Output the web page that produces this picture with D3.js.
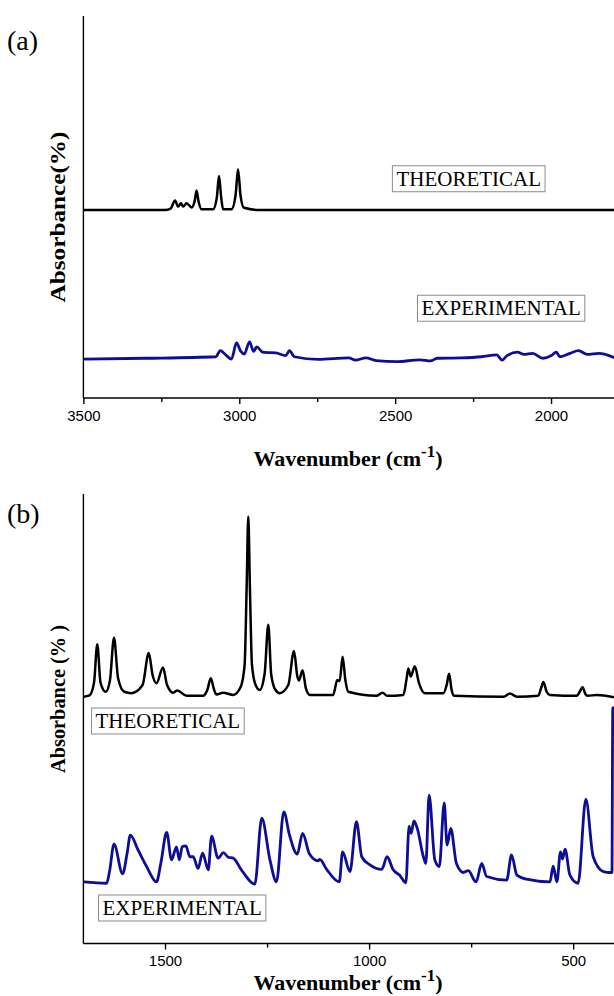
<!DOCTYPE html>
<html>
<head>
<meta charset="utf-8">
<script src="https://cdn.jsdelivr.net/npm/d3@7"></script>
<style>
body { margin: 0; background: #fff; }
svg { display: block; }
.axis path, .axis line { stroke: #000; stroke-width: 1.4; }
.axis text { font-family: "Liberation Sans", Arial, sans-serif; font-size: 15px; fill: #000; }
.panelTag { font-family: "Liberation Serif", "Times New Roman", serif; font-size: 28px; }
.axisTitle { font-family: "Liberation Serif", "Times New Roman", serif; font-weight: bold; font-size: 22px; }
.boxLabel text { font-family: "Liberation Serif", "Times New Roman", serif; font-size: 21px; }
.boxLabel rect { fill: #fff; stroke: #8c8c8c; stroke-width: 1; }
</style>
</head>
<body>
<script>
// values: [wavenumber, absorbance (arbitrary, 0-100)]
var aTheoretical = [[3500,49.2],[3239,49.2],[3220,49.6],[3206,51.7],[3196,50.1],[3187,51.0],[3180,50.1],[3169,51.0],[3153,49.9],[3143,51.6],[3137,54.3],[3131,51.6],[3121,49.4],[3084,49.4],[3072,52.5],[3065,58.1],[3058,52.5],[3052,49.4],[3025,49.4],[3012,53],[3004,59.9],[2996,53],[2985,49.8],[2934,49.2],[1795,49.2]];

var aExperimental = [[3500,10.2],[3300,10.4],[3075,10.8],[3061,12.4],[3040,11.0],[3025,10.2],[3009,14.4],[2995,12.2],[2984,11.5],[2967,14.7],[2954,12.2],[2944,13.4],[2925,12.0],[2911,11.9],[2883,11.8],[2851,11.1],[2839,12.4],[2823,10.8],[2747,10.1],[2649,10.5],[2627,9.9],[2594,10.5],[2561,9.8],[2496,9.5],[2420,10.0],[2387,9.7],[2365,10.4],[2288,10.5],[2223,10.8],[2174,11.3],[2157,9.9],[2141,11.1],[2108,12.0],[2087,11.4],[2059,11.7],[2026,10.4],[1999,11.1],[1983,12.0],[1972,10.8],[1939,11.7],[1912,12.4],[1884,11.4],[1846,11.7],[1795,10.5]];

var bTheoretical = [[1700,54.9],[1685,55.2],[1674,58],[1666,66.6],[1658,58],[1645,56.0],[1635,58.5],[1625,68.0],[1615,59],[1600,56],[1582,55.7],[1555,57.5],[1540,64.6],[1530,59.5],[1521,57.9],[1505,61.4],[1495,57.5],[1480,55.8],[1470,56.3],[1447,55.1],[1407,55.1],[1396,56.5],[1388,59.0],[1380,56.5],[1374,55.4],[1358,55.8],[1333,55.3],[1315,57],[1305,62],[1300,79.4],[1296,95.0],[1292,79],[1287,62],[1278,57.5],[1268,56.4],[1256,60],[1247,70.9],[1240,60],[1230,56.5],[1219,55.7],[1198,57.5],[1184,65.1],[1176,59.5],[1172,58.5],[1163,60.8],[1155,56.8],[1145,55.3],[1088,55.3],[1078,58.6],[1072,58.4],[1065,63.8],[1058,58.5],[1051,56.0],[982,55.1],[967,55.8],[956,55.1],[916,55.3],[908,59],[904,61.2],[898,59.4],[888,61.7],[878,58],[863,55.7],[818,55.7],[810,57.5],[804,60.0],[798,56.5],[792,55.1],[671,54.9],[655,55.6],[638,54.9],[586,55.1],[578,57],[573,58.2],[565,56],[557,55.3],[491,55.1],[484,56],[477,57.0],[470,55.5],[465,55.1],[442,55.3],[400,54.8]];

var bExperimental = [[1700,13.7],[1643,13.4],[1636,16],[1625,22.1],[1604,15.5],[1593,20],[1585,24.1],[1566,20.8],[1545,17.1],[1521,13.7],[1510,18],[1496,24.7],[1484,18.6],[1472,21.5],[1465,18.6],[1458,21.5],[1449,21.7],[1439,19.3],[1431,19.3],[1419,16.7],[1408,20.1],[1394,16.4],[1386,23.9],[1370,19.0],[1357,20.2],[1345,19.2],[1333,19.0],[1313,16.4],[1280,13.2],[1263,27.9],[1243,18.6],[1227,13.7],[1209,29.3],[1195,24.1],[1176,19.9],[1163,24.5],[1146,19.9],[1125,18.4],[1121,18.7],[1104,16.5],[1073,13.7],[1065,20.4],[1047,16.0],[1031,27.1],[1018,19.3],[998,17.5],[969,16.5],[956,19.3],[941,16.4],[925,15.2],[910,13.5],[902,26.1],[897,24.5],[890,27.3],[882,25.6],[867,19.3],[861,17.8],[853,33.0],[839,18.6],[828,17.1],[816,31.3],[809,21.9],[800,25.6],[786,17.8],[769,15.8],[757,16.2],[738,13.7],[724,17.8],[712,14.9],[663,14.1],[651,19.7],[638,15.2],[614,14.3],[557,13.7],[549,17.2],[540,13.7],[531,20.4],[526,18.8],[520,21.0],[508,15.2],[488,13.4],[469,32.1],[451,19.3],[426,16.0],[410,15.8],[405,15.8],[403,52.4],[396,52.4]];

var aTicks = [3500, 3000, 2500, 2000];
var aMinorTicks = [3250, 2750, 2250];
var bTicks = [1500, 1000, 500];
var bMinorTicks = [1250, 750];

// series label boxes: [text, wavenumber, absorbance]
var aLabels = [["THEORETICAL", 2264, 57.4], ["EXPERIMENTAL", 2160, 23.5]];
var bLabels = [["THEORETICAL", 1493, 49.5], ["EXPERIMENTAL", 1458, 7.9]];

var W = 614, H = 996;
var left = 83.4;

var svg = d3.select("body").append("svg")
    .attr("width", W).attr("height", H);

var panels = [
  {tag: "(a)", tagY: 50, top: 16, bottom: 398, xDomain: [3500, 1798],
   ticks: aTicks, minor: aMinorTicks, theo: aTheoretical, exp: aExperimental,
   labels: aLabels, yTitle: "Absorbance(%)", yTitleY: 217, yTitleLen: 171, xTitleY: 466},
  {tag: "(b)", tagY: 523, top: 494, bottom: 943.5, xDomain: [1700, 400],
   ticks: bTicks, minor: bMinorTicks, theo: bTheoretical, exp: bExperimental,
   labels: bLabels, yTitle: "Absorbance (% )", yTitleY: 699, yTitleLen: 148, xTitleY: 990}
];

panels.forEach(function(p, i){
  var x = d3.scaleLinear().domain(p.xDomain).range([left, W]);
  var y = d3.scaleLinear().domain([0, 100]).range([p.bottom, p.top]);

  var g = svg.append("g");

  g.append("clipPath").attr("id", "clip" + i)
    .append("rect").attr("x", left).attr("y", p.top - 20)
    .attr("width", W - left).attr("height", p.bottom - p.top + 20);

  var line = d3.line()
      .x(function(d){ return x(d[0]); })
      .y(function(d){ return y(d[1]); })
      .curve(d3.curveMonotoneX);

  g.append("path").attr("d", line(p.theo))
    .attr("clip-path", "url(#clip" + i + ")")
    .attr("fill", "none").attr("stroke", "#000").attr("stroke-width", 2.5)
    .attr("stroke-linejoin", "round");

  g.append("path").attr("d", line(p.exp))
    .attr("clip-path", "url(#clip" + i + ")")
    .attr("fill", "none").attr("stroke", "#0d0d96").attr("stroke-width", 2.8)
    .attr("stroke-linejoin", "round");

  // axes
  g.append("g").attr("class", "axis")
    .attr("transform", "translate(0," + p.bottom + ")")
    .call(d3.axisBottom(x).tickValues(p.ticks).tickFormat(d3.format("d"))
      .tickSize(6).tickSizeOuter(0).tickPadding(6))
    .call(function(s){ s.select(".domain").attr("d", "M" + left + ",0H" + W); });

  g.append("g").attr("class", "axis")
    .attr("transform", "translate(0," + p.bottom + ")")
    .call(d3.axisBottom(x).tickValues(p.minor).tickSize(4).tickFormat(""))
    .call(function(s){ s.select(".domain").remove(); });

  g.append("g").attr("class", "axis")
    .attr("transform", "translate(" + left + ",0)")
    .call(d3.axisLeft(y).tickValues([]).tickSizeOuter(0))
    .call(function(s){ s.select(".domain").attr("d", "M0," + p.top + "V" + p.bottom); });

  // label boxes
  p.labels.forEach(function(l){
    var lg = g.append("g").attr("class", "boxLabel");
    var rect = lg.append("rect");
    var t = lg.append("text")
      .attr("x", x(l[1])).attr("y", y(l[2]) + 7)
      .attr("text-anchor", "middle").text(l[0]);
    var bb = t.node().getBBox();
    rect.attr("x", bb.x - 4).attr("y", y(l[2]) - 13)
      .attr("width", bb.width + 8).attr("height", 26);
  });

  // titles
  g.append("text").attr("class", "panelTag")
    .attr("x", 7).attr("y", p.tagY).text(p.tag);

  g.append("text").attr("class", "axisTitle")
    .attr("transform", "translate(65," + p.yTitleY + ") rotate(-90)")
    .attr("text-anchor", "middle")
    .attr("font-size", "20px")
    .attr("textLength", p.yTitleLen).attr("lengthAdjust", "spacingAndGlyphs")
    .text(p.yTitle);

  var xt = g.append("text").attr("class", "axisTitle")
    .attr("x", 348).attr("y", p.xTitleY).attr("text-anchor", "middle");
  xt.append("tspan").text("Wavenumber (cm");
  xt.append("tspan").attr("dy", -9).attr("font-size", "17px").text("-1");
  xt.append("tspan").attr("dy", 9).text(")");
});
</script>
</body>
</html>
